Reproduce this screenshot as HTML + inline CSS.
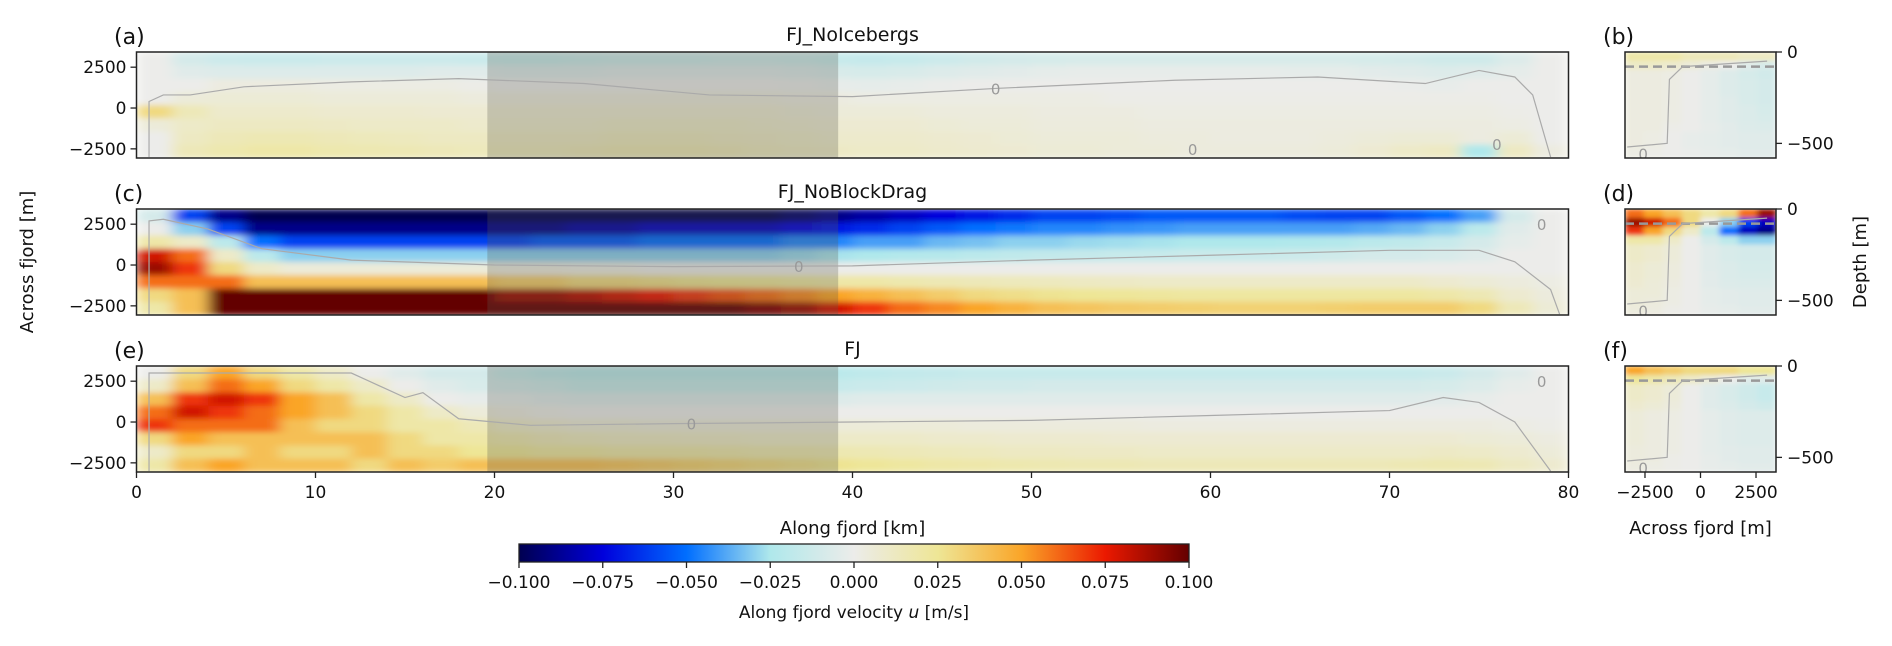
<!DOCTYPE html>
<html><head><meta charset="utf-8"><style>
body{margin:0;background:#fff}
svg{display:block;font-family:"DejaVu Sans","Liberation Sans",sans-serif}
</style></head><body>
<svg id="fig" width="1892" height="646" viewBox="0 0 1892 646" xmlns="http://www.w3.org/2000/svg">
<defs>
<filter id="blurM" x="0" y="0" width="1" height="1"><feGaussianBlur stdDeviation="7 3" edgeMode="duplicate"/></filter>
<filter id="blurR" x="0" y="0" width="1" height="1"><feGaussianBlur stdDeviation="3 2" edgeMode="duplicate"/></filter>
<linearGradient id="cbgrad" x1="0" x2="1" y1="0" y2="0"></linearGradient>
</defs>
<g id="root"></g>
</svg>
<script>
// ---- data (velocity in cm/s, i.e. value*0.01 m/s) ----
const kmTicks = [0,10,20,30,40,50,60,70,80];
const acrossTicks = [2500,0,-2500];
const depthTicks = [0,-500];
const crossTicks = [-2500,0,2500];
const cbTicks = [-0.1,-0.075,-0.05,-0.025,0,0.025,0.05,0.075,0.1];
const cbLabels = ["−0.100","−0.075","−0.050","−0.025","0.000","0.025","0.050","0.075","0.100"];
const panelTitles = ["FJ_NoIcebergs","FJ_NoBlockDrag","FJ"];
const shadeRange = [19.6,39.2];
// columns of 2 km each (0..80 km), each column = 8 rows top(+3430 m) -> bottom(-3060 m)
const colsA = [
[0,0,0,0,3,0.5,0,0],[-1,-0.5,0,0.5,1.5,1,1.2,1.5],[-1.3,-0.6,0.3,0.6,0.9,1.2,1.5,1.8],[-1.4,-0.6,0.3,0.6,0.9,1.2,1.6,2],
[-1.4,-0.6,0.3,0.6,0.9,1.2,1.6,2],[-1.3,-0.6,0.2,0.5,0.8,1.1,1.5,1.8],[-1.3,-0.6,0.2,0.5,0.8,1,1.4,1.7],[-1.3,-0.6,0.2,0.5,0.8,1,1.3,1.6],
[-1.3,-0.5,0.2,0.5,0.7,1,1.2,1.5],[-1.4,-0.5,0.1,0.4,0.7,0.9,1.2,1.4],[-1.5,-0.6,0,0.4,0.7,0.9,1.2,1.4],[-1.5,-0.6,0,0.4,0.7,0.9,1.2,1.4],
[-1.4,-0.6,0,0.4,0.7,0.9,1.2,1.5],[-1.3,-0.5,0,0.4,0.7,1,1.3,1.6],[-1.3,-0.5,0,0.4,0.7,1,1.3,1.6],[-1.3,-0.5,0,0.4,0.7,1,1.3,1.6],
[-1.2,-0.5,0,0.4,0.7,1,1.2,1.5],[-1.2,-0.5,0,0.4,0.7,0.9,1.1,1.3],[-1.3,-0.6,-0.1,0.3,0.6,0.8,1,1.2],[-1.5,-0.8,-0.2,0.3,0.5,0.7,0.9,1.1],
[-1.6,-0.9,-0.3,0.2,0.5,0.7,0.9,1],[-1.5,-0.8,-0.2,0.2,0.5,0.7,0.9,1],[-1.3,-0.6,-0.1,0.2,0.4,0.6,0.8,0.9],[-1.1,-0.5,0,0.2,0.4,0.5,0.7,0.8],
[-1,-0.4,0,0.2,0.4,0.5,0.6,0.7],[-0.9,-0.3,0,0.2,0.3,0.4,0.5,0.6],[-0.8,-0.2,0,0.2,0.3,0.4,0.5,0.6],[-0.8,-0.2,0,0.1,0.3,0.4,0.5,0.5],
[-0.8,-0.2,0,0.1,0.2,0.3,0.4,0.5],[-0.8,-0.2,0,0.1,0.2,0.3,0.4,0.4],[-0.8,-0.2,0,0.1,0.2,0.3,0.3,0.4],[-0.8,-0.2,0,0.1,0.2,0.3,0.3,0.4],
[-0.8,-0.3,0,0.1,0.2,0.3,0.3,0.4],[-0.8,-0.3,0,0.1,0.2,0.3,0.4,0.5],[-0.9,-0.4,0,0.1,0.2,0.3,0.5,0.7],[-1,-0.5,-0.1,0.1,0.2,0.3,0.6,1],
[-1.2,-0.6,-0.2,0.1,0.2,0.3,0.6,1.2],[-1.2,-0.5,0,0.1,0.2,0.3,0.3,-2.5],[-0.6,-0.3,0,0,0.1,0.2,0.6,1.2],[0,0,0,0,0,0,0,0.3]];
const colsC = [
[-1,0,2,8,9,6,3,2],[-6,-3,1,6,7,6,4,4],[-9,-6,-2,1,3,6,10,10],[-10,-9,-5,-2,1,4,10,10],
[-10,-9,-6,-3,0.5,4,10,10],[-10,-9,-6,-3,0.5,4,10,10],[-10,-9,-6,-3,0.5,4,10,10],[-10,-9,-6,-3,0.5,4,10,10],
[-10,-9,-6,-3,0.5,4,10,10],[-10,-9,-6,-3,0.5,4,10,10],[-10,-9,-6,-3,0.3,3.5,9,10],[-10,-9,-5.5,-3,0.3,3.5,9,10],
[-10,-8.5,-5.5,-3,0.2,3,8.5,10],[-10,-8.5,-5.5,-3,0.2,3,8,10],[-10,-8,-5,-3,0,2.8,7.5,10],[-10,-8,-5,-3,0,2.6,7,10],
[-10,-8,-5,-3,0,2.5,6.5,10],[-10,-8,-5,-3,0,2.4,6,9.5],[-9.5,-7.5,-4.5,-2.8,0,2.2,5.5,9],[-9,-7,-4.5,-2.6,0,2,5,8],
[-8.5,-6.5,-4,-2.5,0,2,4.5,7],[-8,-6,-4,-2.3,0,1.8,4,6],[-7.5,-5.5,-3.5,-2.2,0,1.6,3.5,5.5],[-7,-5,-3.3,-2,0,1.5,3,5],
[-6.5,-4.8,-3,-1.8,0,1.4,2.8,4.5],[-6,-4.5,-3,-1.7,0,1.3,2.6,4],[-6,-4.5,-2.8,-1.6,0,1.2,2.5,3.8],[-5.8,-4.3,-2.7,-1.5,0,1.1,2.4,3.6],
[-5.5,-4.2,-2.6,-1.5,0,1,2.3,3.5],[-5.5,-4,-2.5,-1.4,0,1,2.2,3.4],[-5.5,-4,-2.5,-1.4,0,1,2.2,3.3],[-5.5,-4,-2.5,-1.4,0,1,2.2,3.3],
[-5.8,-4,-2.4,-1.3,0,1,2.2,3.3],[-6,-4,-2.3,-1.2,0,1,2.2,3.4],[-6,-3.8,-2,-1,0,1,2.2,3.5],[-5.5,-3.5,-1.8,-1,0,1,2.2,3.5],
[-5,-3,-1.5,-0.8,0,0.8,2,3.5],[-4,-2,-1,-0.5,0,0.6,1.6,3],[-1,-0.5,-0.3,0,0,0.4,0.8,1.5],[0,0,0,0,0,0.2,0.4,0.6]];
const colsE = [
[0,1,4,6,7,3,1,2],[3,4,7,8,6,5,3,4],[5,6,8,7,6,4,3,5],[3,5,7,6,6,4,4,4],
[2,3,5,5,4,4,3,4],[1,2,4,4,3,4,3,4],[0,1,2,3,3,4,4,3],[-0.5,0,1,2,2,3,3,4],
[-1,-0.5,0,1,2,2,3,3.5],[-1,-0.8,-0.2,0.5,1.5,2,2.5,4],[-1.5,-1,-0.3,0.3,1,1.8,2.5,4],[-1.8,-1.2,-0.5,0.1,0.8,1.5,2.2,4],
[-2,-1.5,-0.6,0,0.6,1.3,2.2,4],[-2,-1.5,-0.6,0,0.6,1.2,2,3.8],[-2,-1.5,-0.6,0,0.5,1.2,2,3.6],[-2,-1.5,-0.6,0,0.5,1.1,2,3.4],
[-2,-1.5,-0.6,0,0.5,1.1,1.9,3.2],[-2,-1.5,-0.6,0,0.5,1,1.8,3],[-2,-1.5,-0.6,0,0.5,1,1.8,2.8],[-2,-1.5,-0.6,0,0.5,1,1.7,2.6],
[-1.8,-1.4,-0.5,0,0.5,1,1.6,2.4],[-1.7,-1.3,-0.5,0,0.5,1,1.5,2.2],[-1.6,-1.2,-0.5,0,0.5,0.9,1.4,2],[-1.5,-1.1,-0.5,0,0.4,0.9,1.3,1.9],
[-1.5,-1.1,-0.5,0,0.4,0.8,1.2,1.8],[-1.5,-1,-0.5,0,0.4,0.8,1.2,1.7],[-1.5,-1,-0.5,0,0.4,0.8,1.1,1.6],[-1.5,-1,-0.5,0,0.4,0.7,1.1,1.6],
[-1.5,-1,-0.5,0,0.3,0.7,1,1.5],[-1.5,-1,-0.5,0,0.3,0.7,1,1.5],[-1.5,-1,-0.5,0,0.3,0.7,1,1.5],[-1.5,-1,-0.5,0,0.3,0.7,1,1.5],
[-1.5,-1,-0.5,0,0.3,0.7,1,1.5],[-1.5,-1,-0.5,0,0.3,0.7,1,1.5],[-1.5,-1,-0.5,0,0.3,0.7,1,1.5],[-1.5,-1,-0.5,0,0.3,0.7,1,1.6],
[-1.4,-0.9,-0.4,0,0.3,0.7,1.1,1.7],[-1,-0.6,-0.2,0,0.3,0.6,1,1.6],[-0.5,-0.2,0,0,0.2,0.5,0.8,1.2],[0,0,0,0,0.1,0.3,0.5,0.8]];
// cross sections: 8 columns (-3400..3400 m) x 12 depth rows (0..-580 m)
const secB = [
[2,2,2,1.5,1.5,1.5,1.2,1.2],[1,1,0.8,0.5,0.2,0,-0.5,-0.8],[0.3,0.3,0.2,0,-0.3,-0.6,-0.9,-1.1],[0.3,0.3,0.2,0,-0.3,-0.6,-0.8,-1],
[0.3,0.3,0.2,0,-0.3,-0.6,-0.8,-1],[0.3,0.3,0.2,0,-0.3,-0.5,-0.8,-1],[0.3,0.3,0.2,0,-0.3,-0.5,-0.7,-0.9],[0.3,0.3,0.2,0,-0.3,-0.5,-0.7,-0.8],
[0.3,0.3,0.1,0,-0.2,-0.4,-0.6,-0.7],[0.3,0.2,0,-0.2,-0.3,-0.4,-0.5,-0.5],[0.3,0.2,0,-0.2,-0.3,-0.4,-0.5,-0.5],[0.2,0.1,0,-0.1,-0.2,-0.3,-0.4,-0.4]];
const secD = [
[6,5,4,3,2,3,6,9],[9,8,6,3,0,-3,-6,-8],[7,5,3,1,-2,-5,-8,-9],[2,2,1,0,-1,-2,-3,-3],
[1,0.8,0.5,0,-0.5,-0.8,-1,-1],[1,0.8,0.5,0,-0.5,-0.8,-1,-1],[0.8,0.6,0.4,0,-0.5,-0.7,-0.9,-0.9],[0.8,0.6,0.4,0,-0.4,-0.7,-0.8,-0.8],
[0.7,0.5,0.3,0,-0.4,-0.6,-0.7,-0.7],[0.5,0.5,0.2,0,-0.3,-0.4,-0.5,-0.5],[0.5,0.4,0.2,0,-0.3,-0.4,-0.5,-0.5],[0.4,0.3,0.1,0,-0.2,-0.3,-0.4,-0.4]];
const secF = [
[5,4,3.5,3,3,3,2.5,2.5],[2.5,2,1.5,1,0.5,0,-0.5,-0.5],[1,0.8,0.5,0,-0.5,-0.8,-1.2,-1.5],[1,0.8,0.5,0,-0.5,-0.8,-1.2,-1.5],
[0.8,0.6,0.4,0,-0.5,-0.7,-1,-1.2],[0.5,0.3,0.2,0,-0.3,-0.5,-0.6,-0.6],[0.5,0.3,0.2,0,-0.3,-0.5,-0.6,-0.6],[0.5,0.3,0.2,0,-0.3,-0.5,-0.6,-0.6],
[0.5,0.3,0.2,0,-0.3,-0.5,-0.6,-0.6],[0.4,0.3,0.2,0,-0.3,-0.4,-0.5,-0.5],[0.4,0.3,0.1,0,-0.2,-0.4,-0.5,-0.5],[0.3,0.2,0.1,0,-0.2,-0.3,-0.4,-0.4]];
// zero contours [km, m]
const contA = [[0.7,-3000],[0.7,400],[1.5,800],[3,800],[6,1300],[12,1600],[18,1800],[25,1500],[32,800],[40,700],[48,1200],[58,1700],[66,1900],[72,1500],[75,2300],[77,1900],[78,800],[79,-3000]];
const contC = [[0.7,-3000],[0.7,2700],[1.5,2800],[4,2200],[7,1000],[12,300],[20,0],[30,-100],[40,-50],[50,300],[60,600],[70,900],[75,900],[77,200],[79,-1500],[79.5,-3000]];
const contE = [[0.7,-3000],[0.7,3000],[12,3000],[15,1500],[16,1800],[18,200],[22,-200],[30,-100],[40,0],[50,100],[60,400],[70,700],[73,1500],[75,1200],[77,0],[79,-3000]];
const contLabels = [[[48,1200],[76,-2200],[59,-2500]],[[37,-60],[78.5,2500]],[[31,-80],[78.5,2500]]];

// ---- layout ----
const NS="http://www.w3.org/2000/svg";
const root=document.getElementById('root');
const MX0=136.5, MX1=1568.5, RX0=1625, RX1=1776;
const panelTops=[52,209,366], PH=106;
const yMax=3430, yMin=-3060, dMax=0, dMin=-580, cMin=-3400, cMax=3400;
const xk=km=>MX0+km/80*(MX1-MX0);
const ym=(p,m)=>panelTops[p]+(yMax-m)/(yMax-yMin)*PH;
const xc=m=>RX0+(m-cMin)/(cMax-cMin)*(RX1-RX0);
const yd=(p,d)=>panelTops[p]+(dMax-d)/(dMax-dMin)*PH;

const stops=[[-10,[0,0,80]],[-7.5,[0,0,220]],[-5,[0,110,255]],[-2.5,[175,232,235]],[0,[236,236,234]],[2.5,[238,230,150]],[5,[250,165,40]],[7.5,[235,25,0]],[10,[100,0,0]]];
function cmap(v){v=Math.max(-10,Math.min(10,v));for(let i=0;i<stops.length-1;i++){const a=stops[i],b=stops[i+1];if(v<=b[0]){const t=(v-a[0])/(b[0]-a[0]);const c=a[1].map((x,j)=>Math.round(x+(b[1][j]-x)*t));return `rgb(${c})`;}}return 'rgb(100,0,0)';}
function el(tag,attrs,parent,text){const e=document.createElementNS(NS,tag);for(const k in attrs)e.setAttribute(k,attrs[k]);if(text!==undefined)e.textContent=text;(parent||root).appendChild(e);return e;}

const grad=document.getElementById('cbgrad');
stops.forEach(s=>{const st=document.createElementNS(NS,'stop');st.setAttribute('offset',((s[0]+10)/20*100)+'%');st.setAttribute('stop-color',cmap(s[0]));grad.appendChild(st);});

const mainCols=[colsA,colsC,colsE], secs=[secB,secD,secF], conts=[contA,contC,contE];
const letters=[['(a)','(b)'],['(c)','(d)'],['(e)','(f)']];
const defs=document.querySelector('defs');
for(let p=0;p<3;p++){
  const top=panelTops[p];
  const cp=el('clipPath',{id:'cm'+p},defs);el('rect',{x:MX0,y:top,width:MX1-MX0,height:PH},cp);
  const cr=el('clipPath',{id:'cr'+p},defs);el('rect',{x:RX0,y:top,width:RX1-RX0,height:PH},cr);
  const g=el('g',{'clip-path':`url(#cm${p})`});
  
  
  const hg=el('g',{filter:'url(#blurM)'},g);
  const cols=mainCols[p];const nR=cols[0].length;const dkm=80/cols.length;
  cols.forEach((col,i)=>col.forEach((v,r)=>{
    const y0=ym(p,yMax-(yMax-yMin)*r/nR), y1=ym(p,yMax-(yMax-yMin)*(r+1)/nR);
    const c=el('rect',{x:xk(i*dkm),y:y0,width:xk((i+1)*dkm)-xk(i*dkm)+0.5,height:y1-y0+0.5,fill:cmap(v)},hg);
    
    
  }));
  const sh=el('rect',{x:xk(shadeRange[0]),y:top,width:xk(shadeRange[1])-xk(shadeRange[0]),height:PH,fill:'rgba(90,90,80,0.28)'},g);
  
  
  const cl=el('polyline',{points:conts[p].map(q=>xk(q[0])+','+ym(p,q[1])).join(' '),fill:'none',stroke:'#aaa','stroke-width':1.2},g);
  
  
  contLabels[p].forEach(q=>{
    const cl2=el('text',{x:xk(q[0]),y:ym(p,q[1])+6,'text-anchor':'middle','font-size':15,fill:'#999'},g,'0');
    
    
  });
  const fr=el('rect',{x:MX0,y:top,width:MX1-MX0,height:PH,fill:'none',stroke:'#222','stroke-width':1.5});
  
  
  acrossTicks.forEach(t=>{const y=ym(p,t);el('line',{x1:MX0-6,x2:MX0,y1:y,y2:y,stroke:'#222','stroke-width':1.3});
    const tl=el('text',{x:MX0-10,y:y+6,'text-anchor':'end','font-size':17,fill:'#111'},root,t===0?'0':(t<0?'−':'')+Math.abs(t));
    
    });
  const tt=el('text',{x:(MX0+MX1)/2,y:top-11,'text-anchor':'middle','font-size':19,fill:'#111'},root,panelTitles[p]);
  
  
  const la=el('text',{x:114,y:top-8,'font-size':22,fill:'#111'},root,letters[p][0]);
  
  
  const rg=el('g',{'clip-path':`url(#cr${p})`});
  
  
  const rh=el('g',{filter:'url(#blurR)'},rg);
  const sec=secs[p];const nDR=sec.length,nC=sec[0].length;
  sec.forEach((row,r)=>row.forEach((v,i)=>{
    const x0=xc(cMin+(cMax-cMin)*i/nC),x1=xc(cMin+(cMax-cMin)*(i+1)/nC);
    const y0=yd(p,dMax-(dMax-dMin)*r/nDR),y1=yd(p,dMax-(dMax-dMin)*(r+1)/nDR);
    const c=el('rect',{x:x0,y:y0,width:x1-x0+0.5,height:y1-y0+0.5,fill:cmap(v)},rh);
    
    
  }));
  el('line',{x1:RX0,x2:RX1,y1:yd(p,-80),y2:yd(p,-80),stroke:'#999','stroke-width':2.5,'stroke-dasharray':'9 5'},rg);
  el('polyline',{points:[[-3300,-520],[-1500,-500],[-1400,-150],[-800,-80],[3000,-50]].map(q=>xc(q[0])+','+yd(p,q[1])).join(' '),fill:'none',stroke:'#aaa','stroke-width':1.2},rg);
  const sl=el('text',{x:xc(-2800),y:yd(p,-560)+5,'font-size':15,fill:'#999'},rg,'0');
  
  
  const rf=el('rect',{x:RX0,y:top,width:RX1-RX0,height:PH,fill:'none',stroke:'#222','stroke-width':1.5});
  
  
  depthTicks.forEach(t=>{const y=yd(p,t);el('line',{x1:RX1,x2:RX1+6,y1:y,y2:y,stroke:'#222','stroke-width':1.3});
    const tl=el('text',{x:RX1+11,y:y+6,'font-size':17,fill:'#111'},root,t===0?'0':'−'+Math.abs(t));
    
    });
  const lb=el('text',{x:1603,y:top-8,'font-size':22,fill:'#111'},root,letters[p][1]);
  
  
}
const bottom=panelTops[2]+PH;
kmTicks.forEach(t=>{const x=xk(t);el('line',{x1:x,x2:x,y1:bottom,y2:bottom+6,stroke:'#222','stroke-width':1.3});
  const tl=el('text',{x:x,y:bottom+26,'text-anchor':'middle','font-size':17,fill:'#111'},root,String(t));
  
  });
crossTicks.forEach(t=>{const x=xc(t);el('line',{x1:x,x2:x,y1:bottom,y2:bottom+6,stroke:'#222','stroke-width':1.3});
  const tl=el('text',{x:x,y:bottom+26,'text-anchor':'middle','font-size':17,fill:'#111'},root,t===0?'0':(t<0?'−':'')+Math.abs(t));
  
  });
let t;
t=el('text',{x:(MX0+MX1)/2,y:534,'text-anchor':'middle','font-size':18,fill:'#111'},root,'Along fjord [km]');


t=el('text',{x:(RX0+RX1)/2,y:534,'text-anchor':'middle','font-size':18,fill:'#111'},root,'Across fjord [m]');


t=el('text',{x:0,y:0,'text-anchor':'middle','font-size':18,fill:'#111',transform:'translate(33,262) rotate(-90)'},root,'Across fjord [m]');


t=el('text',{x:0,y:0,'text-anchor':'middle','font-size':18,fill:'#111',transform:'translate(1866,262) rotate(-90)'},root,'Depth [m]');


const CB0=519,CB1=1189,CBY=544,CBH=18;
t=el('rect',{x:CB0,y:CBY,width:CB1-CB0,height:CBH,fill:'url(#cbgrad)',stroke:'#222','stroke-width':1.3});


cbTicks.forEach((v,i)=>{const x=CB0+(v+0.1)/0.2*(CB1-CB0);el('line',{x1:x,x2:x,y1:CBY+CBH,y2:CBY+CBH+6,stroke:'#222','stroke-width':1.3});
  const tl=el('text',{x:x,y:CBY+CBH+26,'text-anchor':'middle','font-size':17,fill:'#111'},root,cbLabels[i]);
  
  });
t=el('text',{x:(CB0+CB1)/2,y:618,'text-anchor':'middle','font-size':17,fill:'#111'},root,'');
t.innerHTML='Along fjord velocity <tspan font-style="italic">u</tspan> [m/s]';


</script>
</body></html>
